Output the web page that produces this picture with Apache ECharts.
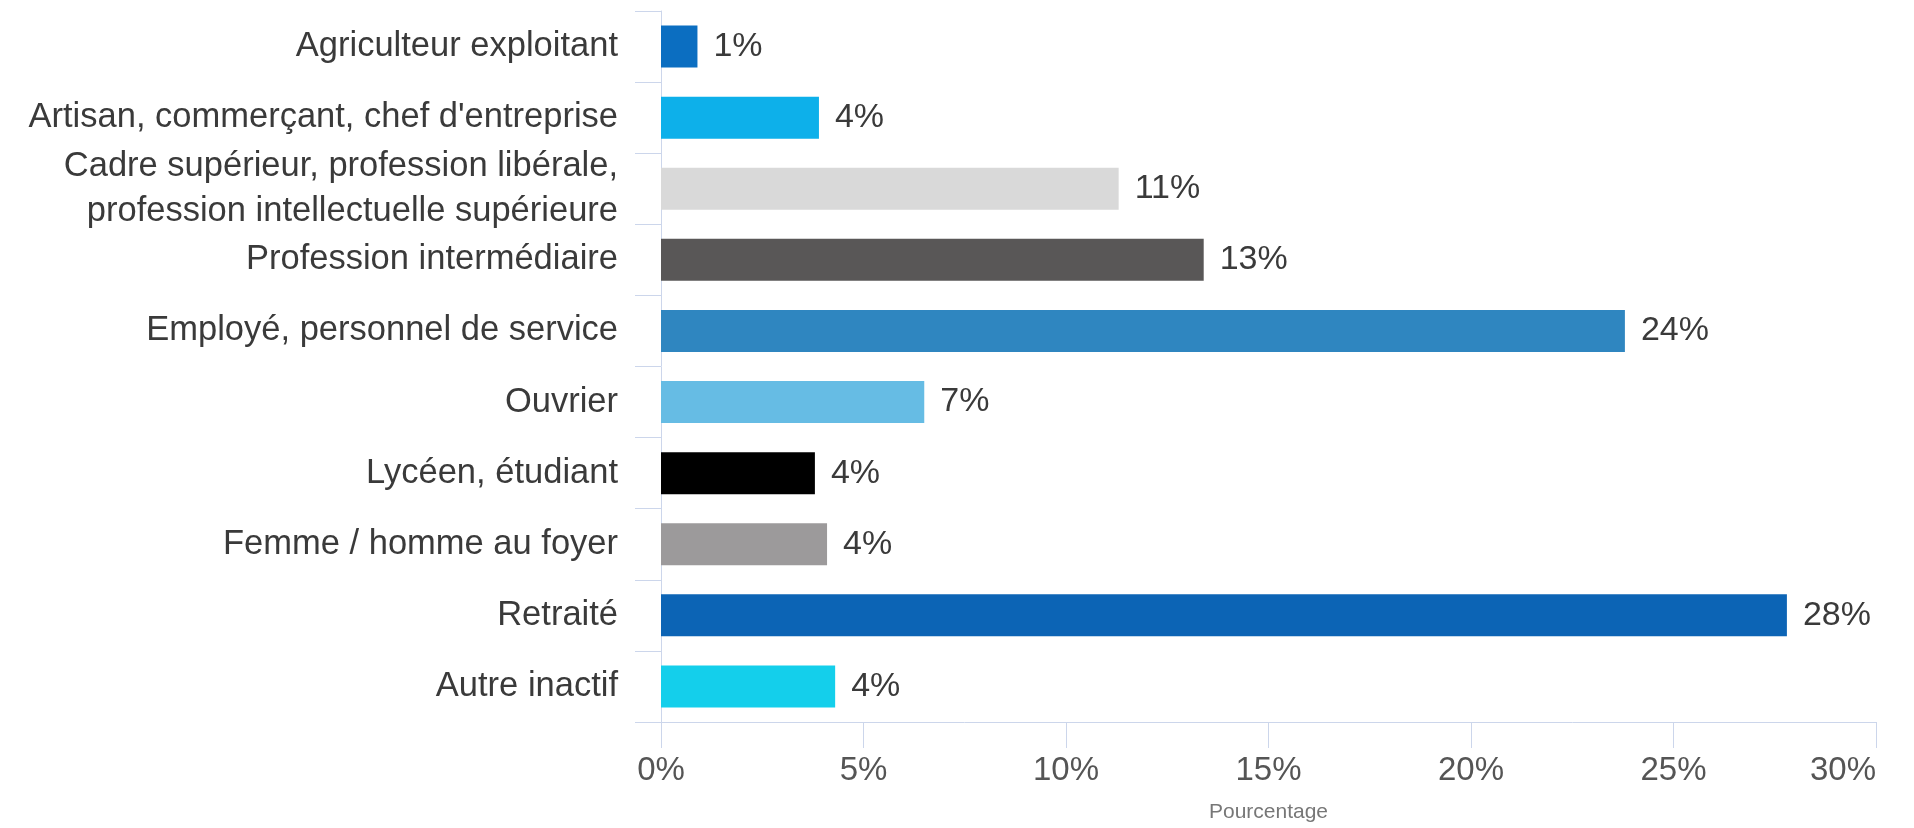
<!DOCTYPE html>
<html>
<head>
<meta charset="utf-8">
<script src="https://cdn.jsdelivr.net/npm/echarts@6/dist/echarts.min.js"></script>
<style>
  html, body { margin: 0; padding: 0; background: #fff; }
  #container { width: 1914px; height: 828px; }
</style>
</head>
<body>
<div id="container"></div>
<script>
// catégories, de haut en bas
const categories = [
    'Agriculteur exploitant',
    'Artisan, commerçant, chef d\'entreprise',
    'Cadre supérieur, profession libérale,\nprofession intellectuelle supérieure',
    'Profession intermédiaire',
    'Employé, personnel de service',
    'Ouvrier',
    'Lycéen, étudiant',
    'Femme / homme au foyer',
    'Retraité',
    'Autre inactif'
];
// pourcentages
const values = [0.9, 3.9, 11.3, 13.4, 23.8, 6.5, 3.8, 4.1, 27.8, 4.3];
const barColors = ['#0b6ec1', '#0db0ea', '#d9d9d9', '#595757', '#2f86c0',
                   '#66bce4', '#000000', '#9c9a9b', '#0c64b5', '#14cfeb'];
const xTicks = [0, 5, 10, 15, 20, 25, 30];

const font = '"Liberation Sans", Arial, sans-serif';
const axisColor = '#ccd6eb';

const chart = echarts.init(document.getElementById('container'), null, { renderer: 'canvas' });

chart.setOption({
    animation: false,
    backgroundColor: '#fff',
    textStyle: { fontFamily: font },
    grid: { left: 661, right: 38, top: 11, bottom: 106, containLabel: false },
    xAxis: {
        type: 'value',
        min: xTicks[0],
        max: xTicks[xTicks.length - 1],
        interval: xTicks[1] - xTicks[0],
        name: 'Pourcentage',
        nameLocation: 'middle',
        nameGap: 80,
        nameTextStyle: { fontSize: 21, color: '#777', fontFamily: font },
        axisLine: { show: true, lineStyle: { color: axisColor, width: 1 } },
        axisTick: { show: true, length: 26, lineStyle: { color: axisColor } },
        splitLine: { show: false },
        axisLabel: {
            formatter: '{value}%',
            fontSize: 33,
            color: '#555',
            margin: 32,
            alignMaxLabel: 'right',
            fontFamily: font
        }
    },
    yAxis: {
        type: 'category',
        data: categories,
        inverse: true,
        axisLine: { show: true, lineStyle: { color: axisColor, width: 1 } },
        axisTick: { show: true, length: 26, alignWithLabel: false, lineStyle: { color: axisColor } },
        axisLabel: {
            fontSize: 34.5,
            color: '#3a3a3a',
            margin: 43,
            lineHeight: 45,
            fontFamily: font
        }
    },
    series: [{
        type: 'bar',
        barWidth: 42,
        data: values.map((v, i) => ({ value: v, itemStyle: { color: barColors[i] } })),
        label: {
            show: true,
            position: 'right',
            distance: 16,
            fontSize: 34,
            color: '#3a3a3a',
            fontFamily: font,
            formatter: p => Math.round(p.value) + '%'
        }
    }]
});
</script>
</body>
</html>
